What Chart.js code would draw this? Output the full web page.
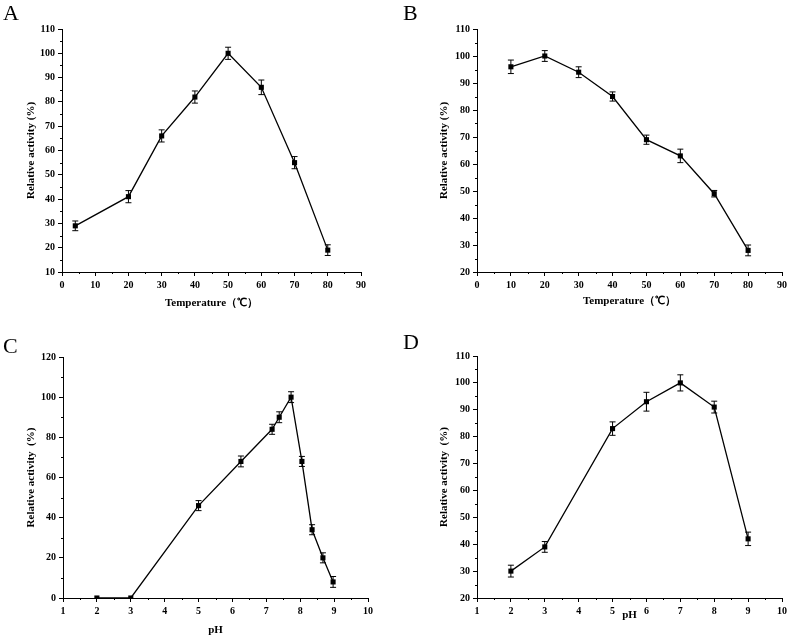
<!DOCTYPE html>
<html>
<head>
<meta charset="utf-8">
<script src="https://cdn.jsdelivr.net/npm/chart.js@4"></script>
<style>
body { margin: 0; background: #fff; width: 791px; height: 637px; position: relative; overflow: hidden; }
.panel { position: absolute; }
.letter { position: absolute; font-family: "Liberation Serif", serif; font-size: 22px; color: #000; line-height: 1; }
</style>
</head>
<body>
<div class="panel" style="left:0;top:0;width:395px;height:310px"><canvas id="chartA"></canvas></div>
<div class="panel" style="left:395px;top:0;width:396px;height:310px"><canvas id="chartB"></canvas></div>
<div class="panel" style="left:0;top:320px;width:395px;height:317px"><canvas id="chartC"></canvas></div>
<div class="panel" style="left:395px;top:320px;width:396px;height:317px"><canvas id="chartD"></canvas></div>
<div class="letter" style="left:3px;top:2px">A</div>
<div class="letter" style="left:403px;top:2px">B</div>
<div class="letter" style="left:3px;top:335px">C</div>
<div class="letter" style="left:403px;top:331px">D</div>
<script>
// A: temperature optimum
const tempA = [4, 20, 30, 40, 50, 60, 70, 80];
const actA = [29, 41, 66, 82, 100, 86, 55, 19];
const errA = [2, 2.5, 2.5, 2.5, 2.5, 3, 2.5, 2.2];

// B: thermal stability
const tempB = [10, 20, 30, 40, 50, 60, 70, 80];
const actB = [96, 100, 94, 85, 69, 63, 49, 28];
const errB = [2.5, 2, 2, 1.7, 1.7, 2.5, 1.2, 2];

// C: pH optimum
const phC = [2, 3, 5, 6.25, 7.17, 7.38, 7.73, 8.05, 8.35, 8.67, 8.97];
const actC = [0, 0, 46, 68, 84, 90, 100, 68, 34, 20, 8];
const errC = [0, 0, 2.5, 2.7, 2.5, 2.7, 2.7, 2.5, 2.5, 2.5, 2.7];

// D: pH stability
const phD = [2, 3, 5, 6, 7, 8, 9];
const actD = [30, 39, 83, 93, 100, 91, 42];
const errD = [2.2, 2, 2.5, 3.5, 3, 2.2, 2.5];

const tempTitle = 'Temperature（℃）';
const yTitleAB = 'Relative activity (%)';
const yTitleCD = 'Relative activity  (%)';

const errorBars = {
	id: 'errorBars',
	afterDatasetsDraw(chart, args, opts) {
		const ctx = chart.ctx;
		const xs = chart.scales.x, ys = chart.scales.y;
		const ds = chart.data.datasets[0];
		ctx.save();
		ctx.strokeStyle = '#000';
		ctx.lineWidth = 1;
		ds.data.forEach((p, i) => {
			const e = opts.errs[i];
			if (!e) return;
			const x = xs.getPixelForValue(p.x);
			const y1 = ys.getPixelForValue(p.y + e);
			const y2 = ys.getPixelForValue(p.y - e);
			ctx.beginPath();
			ctx.moveTo(x, y1); ctx.lineTo(x, y2);
			ctx.moveTo(x - 3, y1); ctx.lineTo(x + 3, y1);
			ctx.moveTo(x - 3, y2); ctx.lineTo(x + 3, y2);
			ctx.stroke();
		});
		ctx.restore();
	}
};

const minorTicks = {
	id: 'minorTicks',
	afterDraw(chart, args, opts) {
		const ctx = chart.ctx;
		const xs = chart.scales.x, ys = chart.scales.y;
		const area = chart.chartArea;
		ctx.save();
		ctx.strokeStyle = '#000';
		ctx.lineWidth = 1;
		ctx.beginPath();
		for (let v = xs.min + opts.xMinor; v < xs.max; v += opts.xMinor * 2) {
			const px = Math.round(xs.getPixelForValue(v)) + 0.5;
			ctx.moveTo(px, area.bottom); ctx.lineTo(px, area.bottom + 2);
		}
		for (let v = ys.min + opts.yMinor; v < ys.max; v += opts.yMinor * 2) {
			const py = Math.round(ys.getPixelForValue(v)) + 0.5;
			ctx.moveTo(area.left, py); ctx.lineTo(area.left - 2, py);
		}
		ctx.stroke();
		ctx.restore();
	}
};

const tickFont = { family: 'Liberation Serif', size: 10, weight: 'bold' };
const titleFont = { family: 'Liberation Serif', size: 11, weight: 'bold' };

function makePanel(id, xVals, yVals, errs, cfg) {
	const points = xVals.map((x, i) => ({ x: x, y: yVals[i] }));
	return new Chart(document.getElementById(id), {
		type: 'line',
		data: {
			datasets: [{
				data: points,
				borderColor: '#000',
				backgroundColor: '#000',
				borderWidth: 1.3,
				pointStyle: 'rect',
				pointRadius: 3.6,
				pointBorderWidth: 0,
				tension: 0
			}]
		},
		options: {
			responsive: true,
			maintainAspectRatio: false,
			animation: false,
			events: [],
			layout: { padding: { left: 0, top: cfg.top, right: cfg.right, bottom: 0 } },
			plugins: {
				legend: { display: false },
				tooltip: { enabled: false },
				errorBars: { errs: errs },
				minorTicks: { xMinor: cfg.xStep / 2, yMinor: cfg.yStep / 2 }
			},
			scales: {
				x: {
					type: 'linear',
					min: cfg.xMin, max: cfg.xMax,
					afterFit: s => { s.height = cfg.xAxisH; },
					ticks: { stepSize: cfg.xStep, color: '#000', font: tickFont, padding: 3, maxRotation: 0 },
					grid: { drawOnChartArea: false, tickLength: 4, tickColor: '#000' },
					border: { color: '#000', width: 1 },
					title: { display: true, text: cfg.xTitle, color: '#000', font: titleFont, padding: { top: 0, bottom: cfg.xTitlePad } }
				},
				y: {
					min: cfg.yMin, max: cfg.yMax,
					afterFit: s => { s.width = cfg.left; },
					ticks: { stepSize: cfg.yStep, color: '#000', font: tickFont, padding: 3 },
					grid: { drawOnChartArea: false, tickLength: 4, tickColor: '#000' },
					border: { color: '#000', width: 1 },
					title: { display: true, text: cfg.yTitle, color: '#000', font: titleFont, padding: { top: cfg.yTitlePad, bottom: 0 } }
				}
			}
		},
		plugins: [errorBars, minorTicks]
	});
}

makePanel('chartA', tempA, actA, errA, {
	left: 62, right: 34, top: 29, xAxisH: 38,
	xMin: 0, xMax: 90, xStep: 10, yMin: 10, yMax: 110, yStep: 10,
	xTitle: tempTitle, yTitle: yTitleAB, xTitlePad: 0, yTitlePad: 25
});
makePanel('chartB', tempB, actB, errB, {
	left: 82, right: 9, top: 29, xAxisH: 38,
	xMin: 0, xMax: 90, xStep: 10, yMin: 20, yMax: 110, yStep: 10,
	xTitle: tempTitle, yTitle: yTitleAB, xTitlePad: 2, yTitlePad: 43
});
makePanel('chartC', phC, actC, errC, {
	left: 63, right: 27, top: 37, xAxisH: 39,
	xMin: 1, xMax: 10, xStep: 1, yMin: 0, yMax: 120, yStep: 20,
	xTitle: 'pH', yTitle: yTitleCD, xTitlePad: 0, yTitlePad: 25
});
makePanel('chartD', phD, actD, errD, {
	left: 82, right: 9, top: 36, xAxisH: 39,
	xMin: 1, xMax: 10, xStep: 1, yMin: 20, yMax: 110, yStep: 10,
	xTitle: 'pH', yTitle: yTitleCD, xTitlePad: 15, yTitlePad: 43
});
</script>
</body>
</html>
